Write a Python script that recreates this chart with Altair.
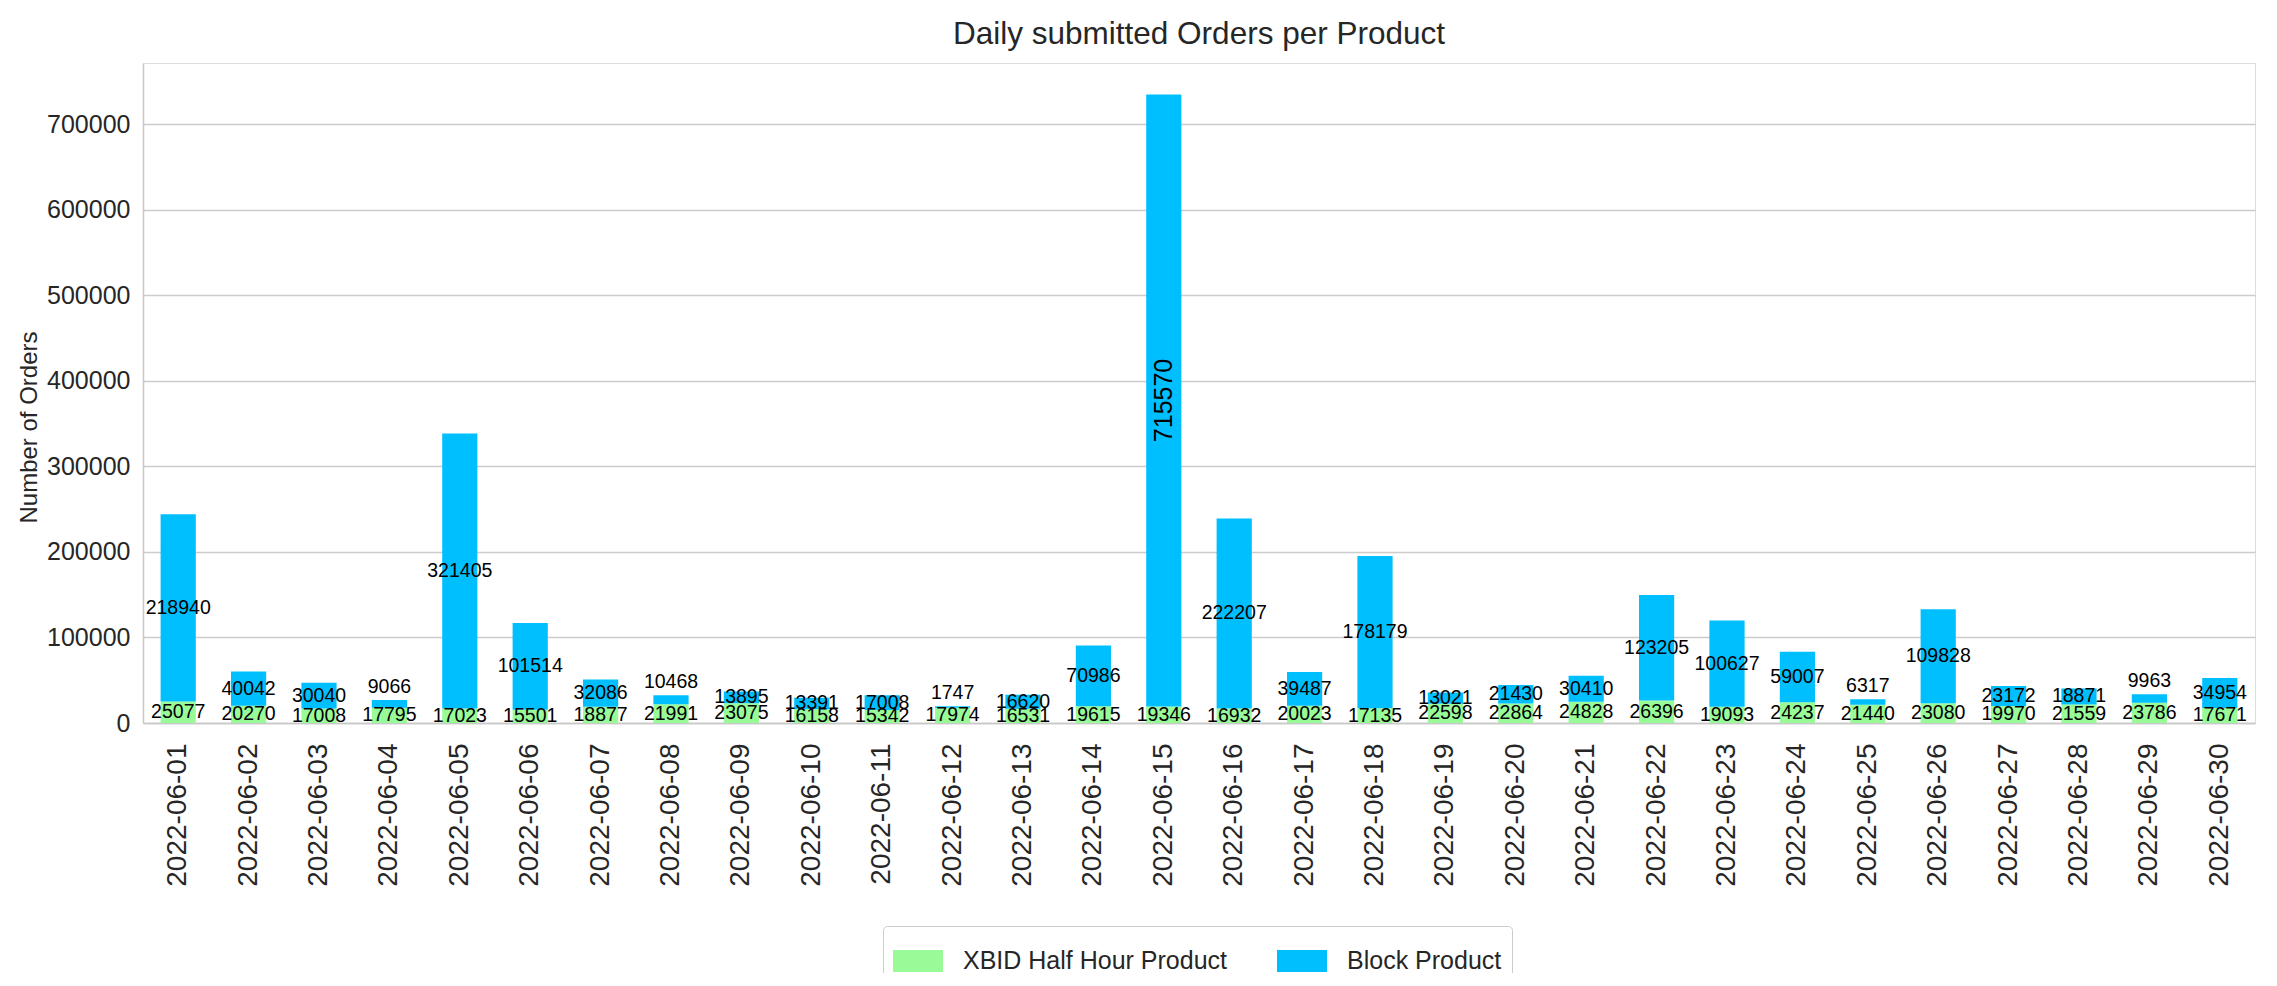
import altair as alt
import pandas as pd

dates = ["2022-06-%02d" % d for d in range(1, 31)]
products = ["XBID Half Hour Product", "Block Product"]
xbid = [25077, 20270, 17008, 17795, 17023, 15501, 18877, 21991, 23075, 16158,
        15342, 17974, 16531, 19615, 19346, 16932, 20023, 17135, 22598, 22864,
        24828, 26396, 19093, 24237, 21440, 23080, 19970, 21559, 23786, 17671]
block = [218940, 40042, 30040, 9066, 321405, 101514, 32086, 10468, 13895, 13391,
         17008, 1747, 16620, 70986, 715570, 222207, 39487, 178179, 13021, 21430,
         30410, 123205, 100627, 59007, 6317, 109828, 23172, 18871, 9963, 34954]
y_ticks = [0, 100000, 200000, 300000, 400000, 500000, 600000, 700000]

rows = []
for i, d in enumerate(dates):
    rows.append({"date": d, "product": products[0], "k": 0, "value": xbid[i]})
    rows.append({"date": d, "product": products[1], "k": 1, "value": block[i]})
df = pd.DataFrame(rows)

FONT = "Liberation Sans, Arial, sans-serif"
TXT = "#262626"

xenc = alt.X("date:N", title=None, sort=dates,
             scale=alt.Scale(paddingInner=0.5, paddingOuter=0.25),
             axis=alt.Axis(labelAngle=270, labelFont=FONT, labelFontSize=28,
                           labelColor=TXT, ticks=False, tickSize=0, labelPadding=20,
                           domainColor="#c8c8c8", domainWidth=1.5, grid=False))
yscale = alt.Scale(domain=[0, 771662], nice=False, zero=True)

base = alt.Chart(df).transform_stack(
    stack="value", groupby=["date"], as_=["y0", "y1"],
    sort=[alt.SortField("k", order="ascending")]
).transform_calculate(mid="(datum.y0 + datum.y1) / 2")

bars = base.mark_bar().encode(
    x=xenc,
    y=alt.Y("y0:Q", scale=yscale, title="Number of Orders",
            axis=alt.Axis(values=y_ticks, format="d", labelFont=FONT, labelFontSize=25,
                          labelColor=TXT, ticks=False, tickSize=0, labelPadding=13,
                          domainColor="#c8c8c8", domainWidth=1.5,
                          gridColor="#cccccc", gridWidth=1.3,
                          titleFont=FONT, titleFontSize=24, titleFontWeight="normal",
                          titleColor=TXT, titleAngle=270, titleAlign="center",
                          titleBaseline="middle", titleX=-114, titleY=364)),
    y2="y1:Q",
    color=alt.Color("product:N", sort=products,
                    scale=alt.Scale(domain=products, range=["#98FB98", "#00BFFF"]),
                    legend=alt.Legend(
                        title=None, orient="none", legendX=740, legendY=863,
                        direction="horizontal", columns=2, columnPadding=50,
                        symbolType="M-1,-0.44H1V0.44H-1Z", symbolSize=2500,
                        symbolStrokeWidth=0, symbolOpacity=1,
                        labelFont=FONT, labelFontSize=25, labelColor=TXT,
                        labelOffset=20, padding=10, strokeColor="#cccccc",
                        fillColor="white", cornerRadius=4, labelLimit=600)),
)

LBL = 19.5
lab_green = base.transform_filter("datum.k == 0").mark_text(
    font=FONT, fontSize=LBL, color="black", baseline="middle"
).encode(x=alt.X("date:N", sort=dates), y=alt.Y("mid:Q", scale=yscale),
         text=alt.Text("value:Q", format="d"))

lab_block = base.transform_filter("datum.k == 1 && datum.value >= 12000 && datum.value < 700000").mark_text(
    font=FONT, fontSize=LBL, color="black", baseline="middle"
).encode(x=alt.X("date:N", sort=dates), y=alt.Y("mid:Q", scale=yscale),
         text=alt.Text("value:Q", format="d"))

lab_small = base.transform_filter("datum.k == 1 && datum.value < 12000").mark_text(
    font=FONT, fontSize=LBL, color="black", baseline="bottom", dy=-3
).encode(x=alt.X("date:N", sort=dates), y=alt.Y("y1:Q", scale=yscale),
         text=alt.Text("value:Q", format="d"))

lab_big = base.transform_filter("datum.k == 1 && datum.value >= 700000").mark_text(
    font=FONT, fontSize=25, color="black", baseline="middle", align="center", angle=270
).encode(x=alt.X("date:N", sort=dates), y=alt.Y("mid:Q", scale=yscale),
         text=alt.Text("value:Q", format="d"))

chart = alt.layer(bars, lab_green, lab_block, lab_small, lab_big).properties(
    width=2112, height=660,
    title=alt.TitleParams("Daily submitted Orders per Product", font=FONT, fontSize=31.5,
                          fontWeight="normal", color=TXT, anchor="middle",
                          frame="group", baseline="alphabetic", offset=22, dy=34),
    autosize=alt.AutoSizeParams(type="none"),
    padding={"left": 135, "top": 55, "right": 6, "bottom": 250},
).configure_view(stroke=None).configure(background="white")

chart.save("out.html", embed_options={"renderer": "svg", "actions": False})
